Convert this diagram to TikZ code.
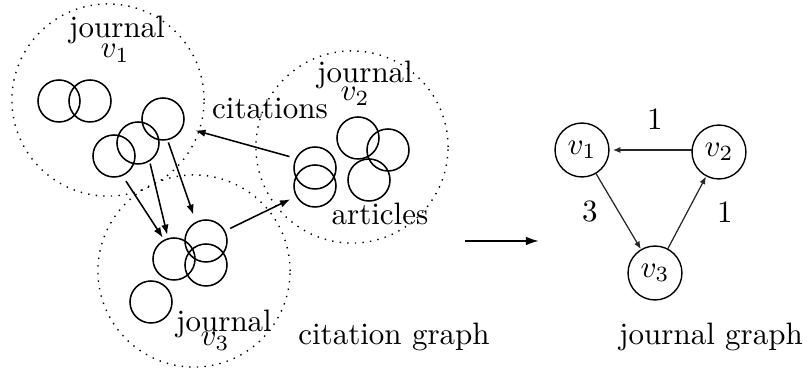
\documentclass[tikz,border=0pt]{standalone}
\usetikzlibrary{arrows.meta}
\begin{document}
\begin{tikzpicture}[x=0.3226pt,y=-0.3226pt,
  art/.style={circle,draw,line width=0.5pt,inner sep=0pt,outer sep=0pt,minimum size=13.55pt},
  jcirc/.style={circle,draw,dotted,line width=0.45pt,inner sep=0pt,outer sep=0pt,minimum size=62pt},
  gnode/.style={circle,draw,line width=0.45pt,inner sep=0pt,outer sep=0pt,minimum size=17.4pt},
  cite/.style={line width=0.5pt,-{Latex[length=3.3pt,width=2.4pt]}},
  gedge/.style={line width=0.4pt,black!85,-{Latex[length=2.4pt,width=2pt]}},
  lbl/.style={anchor=base,inner sep=0pt},
  jlbl/.style={lbl,text depth=0pt},
  vlbl/.style={lbl,text height=4.3pt}]
\useasboundingbox (0,0) rectangle (807,374);
% journal circles
\node[jcirc] (J1) at (108,100) {};
\node[jcirc] (J2) at (352,147) {};
\node[jcirc] (J3) at (194,271) {};
% articles of journal v1
\node[art] (a11) at (59,101) {};
\node[art] (a12) at (90,101) {};
\node[art] (a13) at (114,156) {};
\node[art] (a14) at (138,143) {};
\node[art] (a15) at (163,119) {};
% articles of journal v2
\node[art] (a21) at (315,168) {};
\node[art] (a22) at (315,186) {};
\node[art] (a23) at (358,138) {};
\node[art] (a24) at (388,150) {};
\node[art] (a25) at (369,180) {};
% articles of journal v3
\node[art] (a31) at (174,259) {};
\node[art] (a32) at (206,241) {};
\node[art] (a33) at (206,265) {};
\node[art] (a34) at (151,302) {};
% citations
\draw[cite,shorten <=2.2pt,shorten >=1pt] (a13.-67) -- (a31.117);
\draw[cite,shorten <=1pt,shorten >=1.3pt] (a14.-57) -- (a31.106);
\draw[cite,shorten <=1pt,shorten >=2.6pt] (a15.-78) -- (a32.118);
\draw[cite,shorten <=2pt,shorten >=2.3pt] (a32.28) -- (a22.209);
\draw[cite,shorten <=2.3pt,shorten >=4.3pt] (a21.153) -- (a15.-22);
% labels
\node[jlbl] (t1) at (117,38) {journal};
\node[vlbl] (t1v) at (115,58) {$v_1$};
\node[jlbl] (t2) at (365,83) {journal};
\node[vlbl] (t2v) at (355,101) {$v_2$};
\node[jlbl] (t3) at (224,332) {journal};
\node[vlbl] (t3v) at (215,346) {$v_3$};
\node[lbl] (tc) at (270,119) {citations};
\node[lbl] (ta) at (380,225) {articles};
\node[lbl] (tcg) at (394,345) {citation graph};
\node[lbl] (tjg) at (711,345) {journal graph};
% big arrow
\coordinate (bs) at (465,241);
\coordinate (be) at (539,241);
\draw[line width=0.65pt,-{Latex[length=4.2pt,width=2.8pt]}] (bs) -- (be);
% journal graph
\node[gnode] (v1) at (582,150) {$v_1$};
\node[gnode] (v2) at (719,152) {$v_2$};
\node[gnode] (v3) at (655,273) {$v_3$};
\draw[gedge,shorten >=1.3pt] (v2.west |- v1.east) -- (v1.east);
\draw[gedge,shorten >=0.3pt] (v1) -- (v3);
\draw[gedge,shorten >=0.3pt] (v3) -- (v2);
\node[lbl] (w12) at (655,130) {1};
\node[lbl] (w13) at (590,222) {3};
\node[lbl] (w32) at (725,223) {1};
\end{tikzpicture}
\end{document}
